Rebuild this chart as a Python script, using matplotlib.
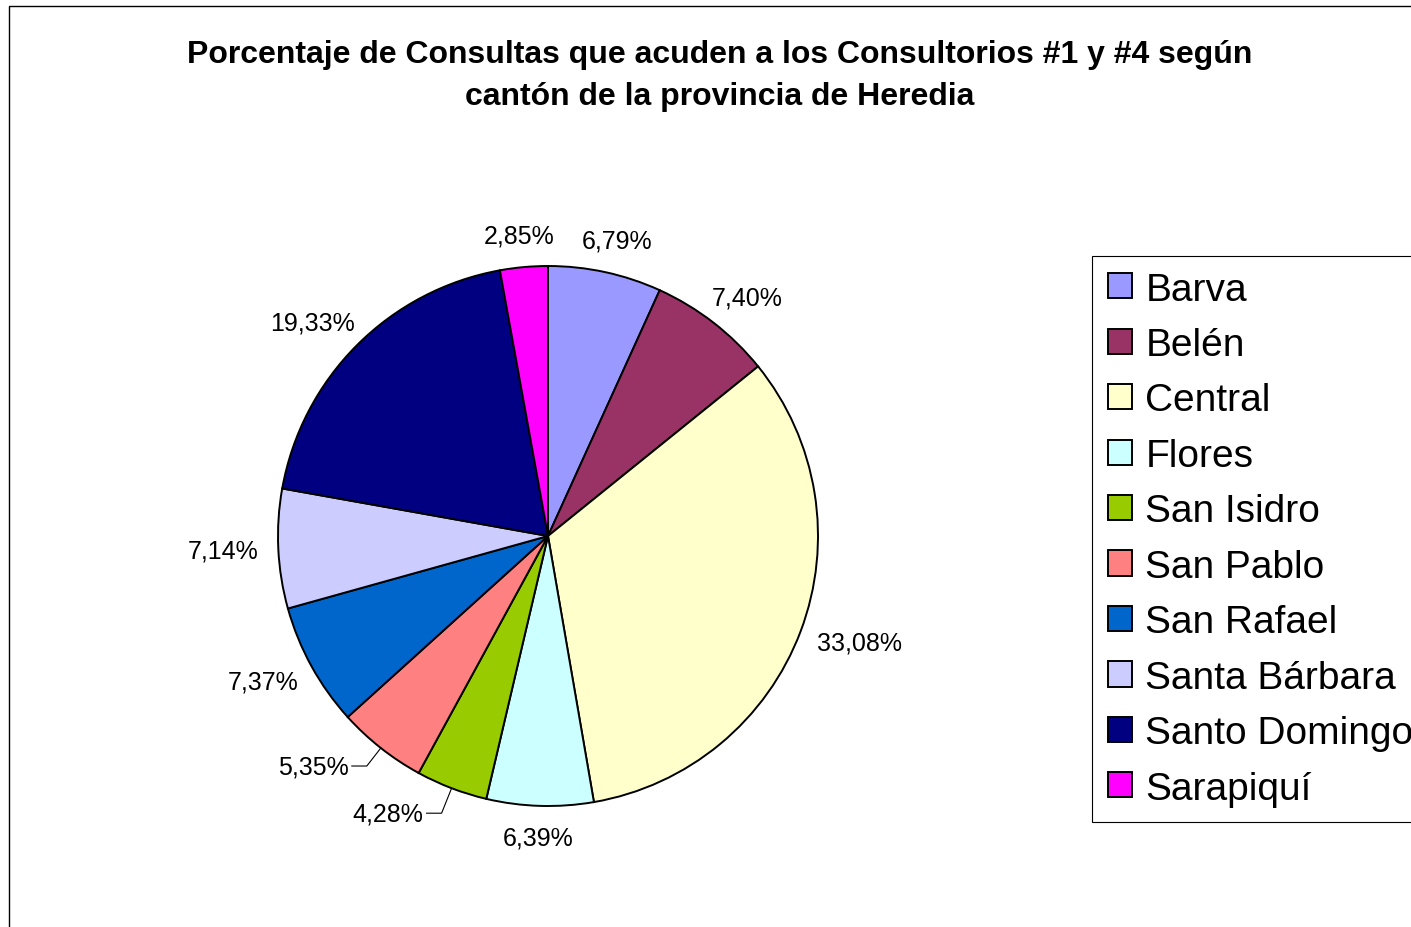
import numpy as np
import matplotlib.pyplot as plt
from matplotlib.patches import Rectangle

plt.rcParams['font.family'] = ['Liberation Sans', 'DejaVu Sans']

cantones = ['Barva', 'Belén', 'Central', 'Flores', 'San Isidro', 'San Pablo',
            'San Rafael', 'Santa Bárbara', 'Santo Domingo', 'Sarapiquí']
porcentajes = [6.79, 7.40, 33.08, 6.39, 4.28, 5.35, 7.37, 7.14, 19.33, 2.85]
colores = ['#9999FF', '#993366', '#FFFFCC', '#CCFFFF', '#99CC00', '#FF8080',
           '#0066CC', '#CCCCFF', '#000080', '#FF00FF']
etiquetas = [f'{v:.2f}%'.replace('.', ',') for v in porcentajes]

W, H = 1411, 928
fig = plt.figure(figsize=(W / 100, H / 100), dpi=100)

# marco del area del grafico
fig.patches.append(Rectangle((9 / W, -0.1), 2, (H - 7) / H + 0.1, transform=fig.transFigure,
                             fill=False, edgecolor='black', linewidth=1.0))

# titulo
fig.text(720 / W, 1 - 63 / H, 'Porcentaje de Consultas que acuden a los Consultorios #1 y #4 según',
         ha='center', va='baseline', fontsize=23, fontweight='bold')
fig.text(720 / W, 1 - 105 / H, 'cantón de la provincia de Heredia',
         ha='center', va='baseline', fontsize=23, fontweight='bold')

# pastel: centro (548,537), radio 270 px
cx, cy, r = 548, 537, 270
half = 340
ax = fig.add_axes([(cx - half) / W, (H - cy - half) / H, 2 * half / W, 2 * half / H])
wedges, _ = ax.pie(porcentajes, colors=colores, startangle=90, counterclock=False, radius=1,
                   wedgeprops=dict(edgecolor='black', linewidth=1.4))
ax.set_xlim(-half / r, half / r)
ax.set_ylim(-half / r, half / r)
ax.axis('off')

renderer = fig.canvas.get_renderer()
gap = 20  # px
leader = {4: (-10, 25), 5: (-14, 18)}  # codo de la linea guia, px desde el borde (y hacia abajo)
for i, (w, lab) in enumerate(zip(wedges, etiquetas)):
    ang = np.deg2rad((w.theta1 + w.theta2) / 2)
    c, s = np.cos(ang), np.sin(ang)
    if i in leader:
        dx, dy = leader[i]
        bx, by = c + dx / r, s - dy / r
        tx = bx - 15 / r
        ax.plot([c, bx, tx], [s, by, by], color='black', linewidth=0.8)
        ax.text(tx - 3 / r, by, lab, ha='right', va='center', fontsize=18)
        continue
    t = ax.text(0, 0, lab, ha='center', va='center', fontsize=18)
    bb = t.get_window_extent(renderer)
    tw, th = bb.width, bb.height
    px = (r + gap) * c + tw / 2 * c
    py = (r + gap) * s + th / 2 * s
    t.set_position((px / r, py / r))

# leyenda
leg = fig.legend(wedges, cantones, loc='upper left', bbox_to_anchor=(1092 / W, 1 - 257 / H),
                 bbox_transform=fig.transFigure, borderaxespad=0, fontsize=28,
                 frameon=True, fancybox=False, edgecolor='black', framealpha=1,
                 handlelength=0.62, handleheight=0.62, handletextpad=0.35,
                 labelspacing=0.5, borderpad=0.4)
leg.get_frame().set_linewidth(0.8)

fig.savefig('out.png', dpi=100)
